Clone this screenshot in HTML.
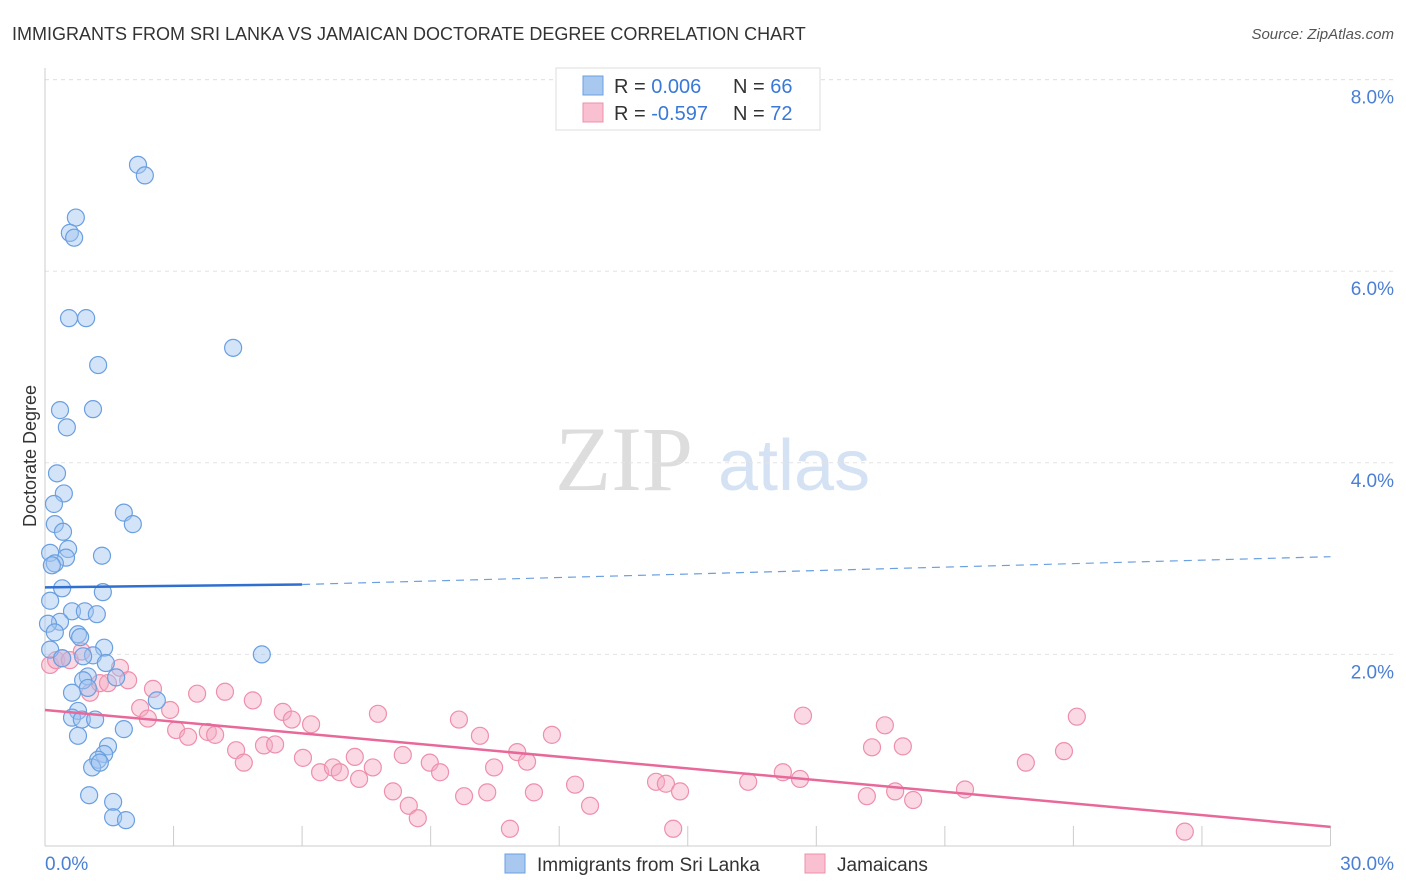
<!DOCTYPE html>
<html><head><meta charset="utf-8"><style>
body{margin:0;background:#fff;font-family:"Liberation Sans",sans-serif}
svg{display:block}
</style></head><body>
<svg id="c" width="1406" height="892">
<text x="12" y="40" font-size="18" fill="#333">IMMIGRANTS FROM SRI LANKA VS JAMAICAN DOCTORATE DEGREE CORRELATION CHART</text>
<text x="1394" y="39" font-size="15" fill="#555" font-style="italic" text-anchor="end">Source: ZipAtlas.com</text>
<text x="36" y="456" font-size="18" fill="#333" transform="rotate(-90 36 456)" text-anchor="middle">Doctorate Degree</text>
<g><text x="555" y="490" font-size="92" fill="#ddd" font-family="Liberation Serif,serif">ZIP</text><text x="718" y="490" font-size="72" fill="#d4e2f4">atlas</text></g>
<g id="grid"></g><g id="pts"></g><g id="lines"></g>
<g>
<rect x="556" y="68" width="264" height="62" fill="#fff" stroke="#ddd"/>
<rect x="583" y="76" width="20" height="19" fill="#a8c8f0" stroke="#6a9fe0"/>
<rect x="583" y="103" width="20" height="19" fill="#f8c0d0" stroke="#ee8fab"/>
<text x="614" y="93" font-size="20" fill="#333">R = <tspan fill="#3a78d8">0.006</tspan><tspan x="733">N = </tspan><tspan fill="#3a78d8">66</tspan></text>
<text x="614" y="120" font-size="20" fill="#333">R = <tspan fill="#3a78d8">-0.597</tspan><tspan x="733">N = </tspan><tspan fill="#3a78d8">72</tspan></text>
</g>
<g>
<rect x="505" y="854" width="20" height="19" fill="#a8c8f0" stroke="#6a9fe0"/>
<text x="537" y="871" font-size="19" fill="#333">Immigrants from Sri Lanka</text>
<rect x="805" y="854" width="20" height="19" fill="#f8c0d0" stroke="#ee8fab"/>
<text x="837" y="871" font-size="19" fill="#333">Jamaicans</text>
</g>
<text x="45" y="870" font-size="19" fill="#4a7fd4">0.0%</text>
<text x="1394" y="870" font-size="19" fill="#4a7fd4" text-anchor="end">30.0%</text>
</svg>
<script>
const yTicks=[2,4,6,8];
const yTickLabels=["2.0%","4.0%","6.0%","8.0%"];
const blueX=[2.17,2.33,0.72,0.58,0.68,0.56,0.96,4.39,1.24,0.35,1.12,0.51,0.28,0.44,0.21,1.84,2.05,0.23,0.42,0.54,0.12,1.33,0.49,0.23,0.16,0.40,1.35,0.12,0.63,0.93,1.21,0.35,0.07,0.23,0.77,0.82,1.38,5.06,0.12,1.12,0.89,0.40,1.42,1.00,1.66,0.89,1.00,0.63,2.61,0.77,0.63,0.86,1.17,1.84,0.77,1.47,1.38,1.24,1.10,1.28,1.03,1.59,1.59,1.89];
const blueY=[7.11,7.00,6.56,6.40,6.35,5.51,5.51,5.20,5.02,4.55,4.56,4.37,3.89,3.68,3.57,3.48,3.36,3.36,3.28,3.10,3.06,3.03,3.01,2.95,2.93,2.69,2.65,2.56,2.45,2.45,2.42,2.34,2.32,2.23,2.21,2.18,2.07,2.00,2.05,1.99,1.98,1.96,1.91,1.77,1.76,1.73,1.65,1.60,1.52,1.41,1.34,1.32,1.32,1.22,1.15,1.04,0.96,0.90,0.82,0.87,0.53,0.46,0.30,0.27];
const pinkX=[0.12,0.26,0.40,0.58,0.86,1.75,1.05,1.28,1.47,1.94,2.52,2.22,2.40,2.92,3.06,3.34,3.55,3.80,3.97,4.20,4.46,4.64,4.85,5.11,5.37,5.55,5.76,6.21,6.02,6.42,6.72,6.88,7.23,7.33,7.65,7.77,8.12,8.35,8.49,8.70,8.98,9.22,9.66,9.78,10.15,10.32,10.48,10.85,11.02,11.25,11.41,11.83,12.37,12.72,14.26,14.49,14.66,14.82,16.41,17.22,17.62,17.69,19.18,19.30,19.60,19.84,20.02,20.26,21.47,22.89,23.78,24.08,26.60];
const pinkY=[1.89,1.94,1.96,1.94,2.03,1.86,1.60,1.70,1.70,1.73,1.64,1.44,1.33,1.42,1.21,1.14,1.59,1.19,1.16,1.61,1.00,0.87,1.52,1.05,1.06,1.40,1.32,1.27,0.92,0.77,0.82,0.77,0.93,0.70,0.82,1.38,0.57,0.95,0.42,0.29,0.87,0.77,1.32,0.52,1.15,0.56,0.82,0.18,0.98,0.88,0.56,1.16,0.64,0.42,0.67,0.65,0.18,0.57,0.67,0.77,0.70,1.36,0.52,1.03,1.26,0.57,1.04,0.48,0.59,0.87,0.99,1.35,0.15];
const blueTrend=[2.70,2.73,3.02];const blueTrendX=[0,6,30];
const pinkTrend=[1.42,0.20];const pinkTrendX=[0,30];
const X=v=>45+v*42.85, Y=v=>846-v*95.8;
const ns="http://www.w3.org/2000/svg";
function mk(t,a,p){const e=document.createElementNS(ns,t);for(const k in a)e.setAttribute(k,a[k]);p.appendChild(e);return e;}
const g=document.getElementById('grid');
yTicks.forEach((t,i)=>{
 const l=mk('line',{x1:45,x2:1394,y1:Y(t),y2:Y(t),stroke:'#e4e4e4','stroke-dasharray':'4,4'},g);
 
 
 const tx=mk('text',{x:1394,y:Y(t)+24,'font-size':19,fill:'#4a7fd4','text-anchor':'end'},g);
 tx.textContent=yTickLabels[i];
 
 
});
mk('line',{x1:45,x2:1394,y1:Y(8),y2:Y(8),stroke:'#e4e4e4','stroke-dasharray':'4,4'},g);
const ax=mk('line',{x1:45,x2:45,y1:68,y2:846,stroke:'#ccc'},g);


const bx=mk('line',{x1:45,x2:1330,y1:846,y2:846,stroke:'#ccc'},g);


for(let i=0;i<=10;i++){const t=mk('line',{x1:X(i*3),x2:X(i*3),y1:826,y2:846,stroke:'#ccc'},g);
 
 }
const p=document.getElementById('pts');
pinkX.forEach((v,i)=>{const c=mk('circle',{cx:X(v),cy:Y(pinkY[i]),r:8.5,fill:'rgba(245,170,195,0.45)',stroke:'#ee8fab','stroke-width':1.2},p);
 
 });
blueX.forEach((v,i)=>{const c=mk('circle',{cx:X(v),cy:Y(blueY[i]),r:8.5,fill:'rgba(160,195,240,0.45)',stroke:'#6a9fe0','stroke-width':1.2},p);
 
 });
const L=document.getElementById('lines');
const b1=mk('line',{x1:X(blueTrendX[0]),y1:Y(blueTrend[0]),x2:X(blueTrendX[1]),y2:Y(blueTrend[1]),stroke:'#2f6fd0','stroke-width':2.5},L);


const b2=mk('line',{x1:X(blueTrendX[1]),y1:Y(blueTrend[1]),x2:X(blueTrendX[2]),y2:Y(blueTrend[2]),stroke:'#6a9fe0','stroke-width':1.2,'stroke-dasharray':'8,6'},L);


const pl=mk('line',{x1:X(pinkTrendX[0]),y1:Y(pinkTrend[0]),x2:X(pinkTrendX[1]),y2:Y(pinkTrend[1]),stroke:'#e8689a','stroke-width':2.5},L);


</script>
</body></html>
